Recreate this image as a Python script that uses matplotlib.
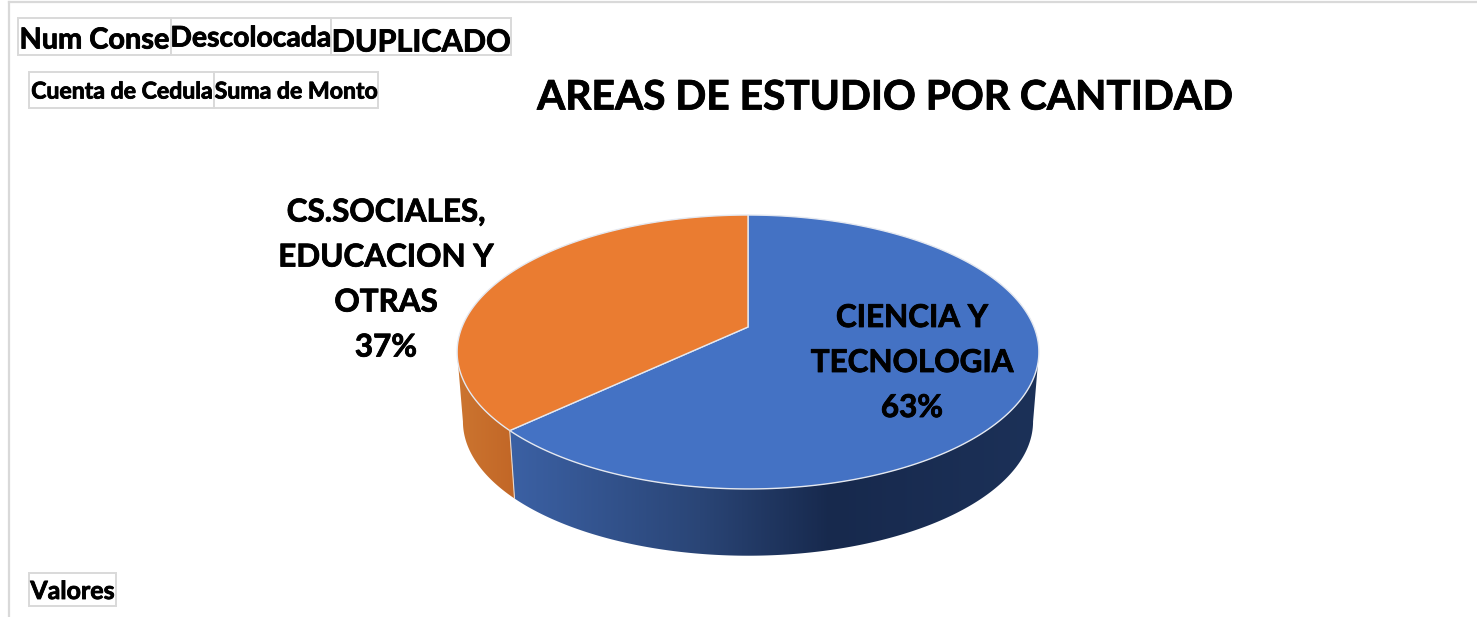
import matplotlib
matplotlib.use('Agg')
import matplotlib.pyplot as plt
import matplotlib.patheffects as pe
import numpy as np
from matplotlib.patches import Polygon, Rectangle

plt.rcParams['font.family'] = ['Lato', 'DejaVu Sans']

# datos
categories = ['CIENCIA Y\nTECNOLOGIA', 'CS.SOCIALES,\nEDUCACION Y\nOTRAS']
values = [63, 37]
title = 'AREAS DE ESTUDIO POR CANTIDAD'
row1_fields = ['Num Conse', 'Descolocada', 'DUPLICADO']
row2_fields = ['Cuenta de Cedula', 'Suma de Monto']
bottom_field = 'Valores'

top_colors = ['#4472c4', '#ea7c31']
# gradiente de la pared lateral (x en pixeles, color)
wall_stops = [
    ([515, 700, 830, 1035], ['#3b60a3', '#2a4576', '#17294d', '#1c3158']),
    ([457, 525], ['#cc7530', '#c06425']),
]

# geometria del pastel en perspectiva
cx, cy = 748, 327
A, B, p = 286, 132.4, 0.1825
shrink, depth = 0.98, 70
heavy = [pe.withStroke(linewidth=0.6, foreground='black')]


def rim(theta, low=False):
    u, v = np.sin(theta), np.cos(theta)
    w = 1 + p * v
    x, y = A * u / w, -B * v / w
    if low:
        return cx + shrink * x, cy + shrink * y + depth
    return cx + x, cy + y


fig = plt.figure(figsize=(14.77, 6.17), dpi=100)
ax = fig.add_axes([0, 0, 1, 1])

# paredes y caras: la pared visible va de un extremo lateral al otro
edges = np.concatenate([[0], np.cumsum(values)]) / sum(values) * 2 * np.pi
t_right = np.arccos(-p)
t_left = 2 * np.pi - t_right
for i in range(len(values)):
    t0, t1 = edges[i], edges[i + 1]
    ts = np.linspace(max(t0, t_right), min(t1, t_left), 200)
    xt, yt = rim(ts)
    xb, yb = rim(ts[::-1], low=True)
    wall = Polygon(np.column_stack([np.r_[xt, xb], np.r_[yt, yb]]), closed=True,
                   fc='none', ec='none', transform=ax.transData)
    ax.add_patch(wall)
    xs = np.arange(440, 1050)
    stops, cols = wall_stops[i]
    rgb = np.array([matplotlib.colors.to_rgb(c) for c in cols])
    grad = np.stack([np.interp(xs, stops, rgb[:, k]) for k in range(3)], axis=-1)[None, :, :]
    im = ax.imshow(grad, extent=[440, 1050, 600, 200], aspect='auto', zorder=1,
                   interpolation='bilinear')
    im.set_clip_path(wall)

for i in range(len(values)):
    ts = np.linspace(edges[i], edges[i + 1], 300)
    xt, yt = rim(ts)
    ax.add_patch(Polygon(np.column_stack([np.r_[cx, xt], np.r_[cy, yt]]), closed=True,
                         fc=top_colors[i], ec='#e4e8f0', lw=1.0, zorder=2))

# linea entre las paredes
x0, y0 = rim(edges[1])
x1, y1 = rim(edges[1], low=True)
ax.plot([x0, x1], [y0, y1], color='#e8d8cc', lw=0.8, zorder=2)

# etiquetas de datos
ax.text(912, 363, f'{categories[0]}\n{values[0]}%', ha='center', va='center', fontsize=22.6,
        fontweight='bold', color='black', linespacing=1.74, zorder=3, path_effects=heavy)
ax.text(386, 280, f'{categories[1]}\n{values[1]}%', ha='center', va='center', fontsize=22.6,
        fontweight='bold', color='black', linespacing=1.74, zorder=3, path_effects=heavy)

ax.text(885, 98, title, ha='center', va='center', fontsize=29.3, fontweight='bold', color='black',
        path_effects=heavy)


# botones de campo
def field(x0, x1, y0, y1, text, size, dy):
    ax.add_patch(Rectangle((x0, y0), x1 - x0, y1 - y0, fc='white', ec='#d9d9d9', lw=1.4, zorder=1))
    ax.text((x0 + x1) / 2, (y0 + y1) / 2 + dy, text, ha='center', va='center', fontsize=size,
            fontweight='bold', color='black', zorder=3, path_effects=heavy)


for (a, b), name, s, dy in zip([(18, 171), (171, 331), (331, 511)], row1_fields,
                               [20.8, 20.4, 22], [4, 2, 6]):
    field(a, b, 18, 55, name, s, dy)
for (a, b), name in zip([(29, 214), (214, 378)], row2_fields):
    field(a, b, 72, 108, name, 16.6, 2)
field(29, 116, 573, 606, bottom_field, 18, 2)

# borde de la pagina
ax.plot([9, 9], [2, 617], color='#d9d9d9', lw=1.6)
ax.plot([9, 1477], [2, 2], color='#d9d9d9', lw=1.6)

ax.set_xlim(0, 1477)
ax.set_ylim(617, 0)
ax.axis('off')
fig.savefig('out.png', dpi=100, facecolor='white')
